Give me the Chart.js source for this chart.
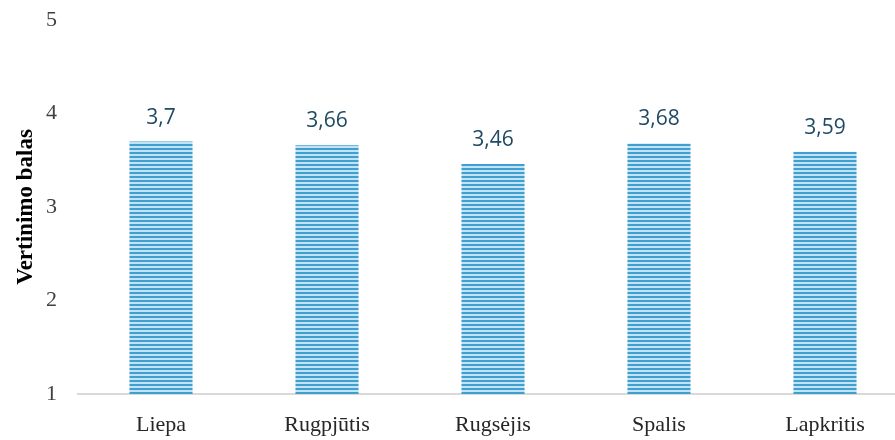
<!DOCTYPE html>
<html>
<head>
<meta charset="utf-8">
<script src="https://cdn.jsdelivr.net/npm/chart.js@4/dist/chart.umd.min.js"></script>
<style>
    html, body { margin: 0; padding: 0; background: #fff; overflow: hidden; }
    #wrap { width: 910px; height: 440px; position: relative; }
</style>
</head>
<body>
<div id="wrap"><canvas id="chart"></canvas></div>
<script>
const months = ['Liepa', 'Rugpjūtis', 'Rugsėjis', 'Spalis', 'Lapkritis'];
const scores = [3.7, 3.66, 3.46, 3.68, 3.59];
const yTicks = [1, 2, 3, 4, 5];

// striped fill like the original bars
function stripePattern() {
    const c = document.createElement('canvas');
    c.width = 8;
    c.height = 4;
    const g = c.getContext('2d');
    g.fillStyle = '#c3e3f3';
    g.fillRect(0, 0, 8, 4);
    g.fillStyle = '#3f9fd1';
    g.fillRect(0, 0, 8, 2);
    return g.createPattern(c, 'repeat');
}

const valueLabels = {
    id: 'valueLabels',
    afterDatasetsDraw(chart) {
        const ctx = chart.ctx;
        const meta = chart.getDatasetMeta(0);
        ctx.save();
        ctx.font = '21px "Open Sans"';
        ctx.fillStyle = '#1f4a63';
        ctx.textAlign = 'center';
        ctx.textBaseline = 'middle';
        meta.data.forEach((bar, i) => {
            const txt = String(scores[i]).replace('.', ',');
            ctx.fillText(txt, bar.x, bar.y - 24);
        });
        ctx.restore();
    }
};

new Chart(document.getElementById('chart'), {
    type: 'bar',
    data: {
        labels: months,
        datasets: [{
            data: scores,
            backgroundColor: stripePattern(),
            borderWidth: 0,
            categoryPercentage: 1,
            barPercentage: 0.38
        }]
    },
    options: {
        responsive: true,
        maintainAspectRatio: false,
        animation: false,
        layout: { padding: { top: 20, right: 2, left: 0, bottom: 0 } },
        plugins: {
            legend: { display: false },
            tooltip: { enabled: false }
        },
        scales: {
            x: {
                grid: { display: false, drawTicks: false },
                border: { display: true, color: '#d9d9d9', width: 2 },
                ticks: {
                    padding: 18,
                    color: '#262626',
                    font: { family: '"Liberation Serif"', size: 22 }
                },
                afterFit(scale) { scale.height = 46; }
            },
            y: {
                min: 1,
                max: 5,
                afterBuildTicks(scale) { scale.ticks = yTicks.map(v => ({ value: v })); },
                grid: { display: false, drawTicks: false },
                border: { display: false },
                ticks: {
                    padding: 21,
                    color: '#404040',
                    font: { family: '"Liberation Serif"', size: 22 }
                },
                title: {
                    display: true,
                    text: 'Vertinimo balas',
                    color: '#000',
                    padding: { top: 12, bottom: 0 },
                    font: { family: '"Liberation Serif"', size: 23, weight: 'bold' }
                },
                afterFit(scale) {
                    scale.width = 78;
                    scale.paddingTop = 0;
                    scale.paddingBottom = 0;
                }
            }
        }
    },
    plugins: [valueLabels]
});
</script>
</body>
</html>
